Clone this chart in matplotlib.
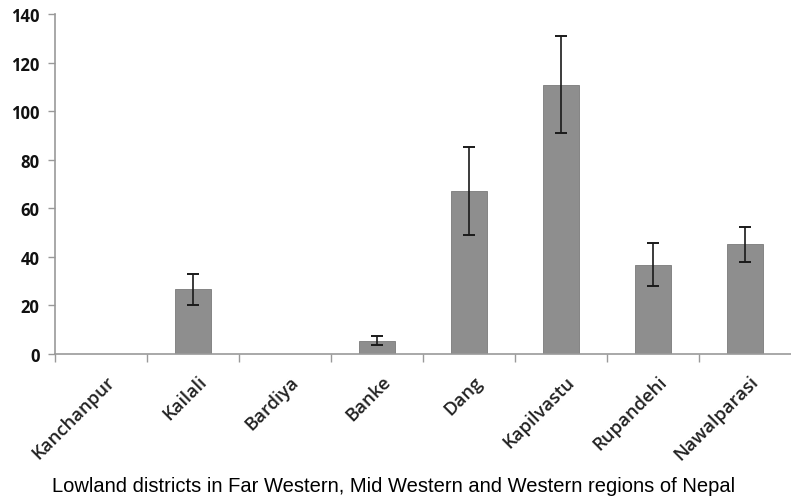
import numpy as np
import matplotlib
matplotlib.use("Agg")
import matplotlib.pyplot as plt

# districts and mean values
districts = ['Kanchanpur', 'Kailali', 'Bardiya', 'Banke', 'Dang',
             'Kapilvastu', 'Rupandehi', 'Nawalparasi']
means = [0, 26.7, 0, 5.5, 67, 110.8, 36.7, 45.2]
errors = [0, 6.4, 0, 1.8, 18.2, 20, 8.8, 7.2]
yticks = [0, 20, 40, 60, 80, 100, 120, 140]

fig = plt.figure(figsize=(7.91, 5.02), dpi=100)
ax = fig.add_axes([0.0695, 0.293, 0.9305, 0.677])

x = np.arange(len(districts))
errs = [e if e > 0 else np.nan for e in errors]
ax.bar(x, means, width=0.4, color='#8e8e8e', edgecolor='#7a7a7a', linewidth=0.6, zorder=2)
ax.errorbar(x, means, yerr=errs, fmt='none', ecolor='#1a1a1a', elinewidth=1.2,
            capsize=4, capthick=1.4, zorder=3)

ax.set_xlim(-0.5, len(districts) - 0.5)
ax.set_ylim(0, 140)

# category boundaries as major ticks, names on minor ticks
ax.set_xticks(np.arange(len(districts)) - 0.5)
ax.set_xticklabels([])
ax.set_xticks(x + 0.05, minor=True)
ax.set_xticklabels(districts, minor=True, rotation=45, ha='right',
                   rotation_mode='anchor', fontsize=13.3, fontweight='semibold',
                   family='Open Sans', color='#222222')
ax.tick_params(axis='x', which='minor', length=0, pad=13)
ax.tick_params(axis='x', which='major', length=6, width=1, color='#999999', direction='out')

ax.set_yticks(yticks)
ax.set_yticklabels([str(v) for v in yticks], fontsize=12, fontweight='bold',
                   family='Open Sans', color='#111111')
ax.tick_params(axis='y', length=5, width=1, color='#999999', pad=6)

for s in ['top', 'right']:
    ax.spines[s].set_visible(False)
for s in ['left', 'bottom']:
    ax.spines[s].set_color('#999999')
    ax.spines[s].set_linewidth(1.2)

fig.text(0.498, 0.03, 'Lowland districts in Far Western, Mid Western and Western regions of Nepal',
         ha='center', va='center', fontsize=14.5, family='Liberation Sans', color='#000000')

fig.savefig('out.png', dpi=100)
